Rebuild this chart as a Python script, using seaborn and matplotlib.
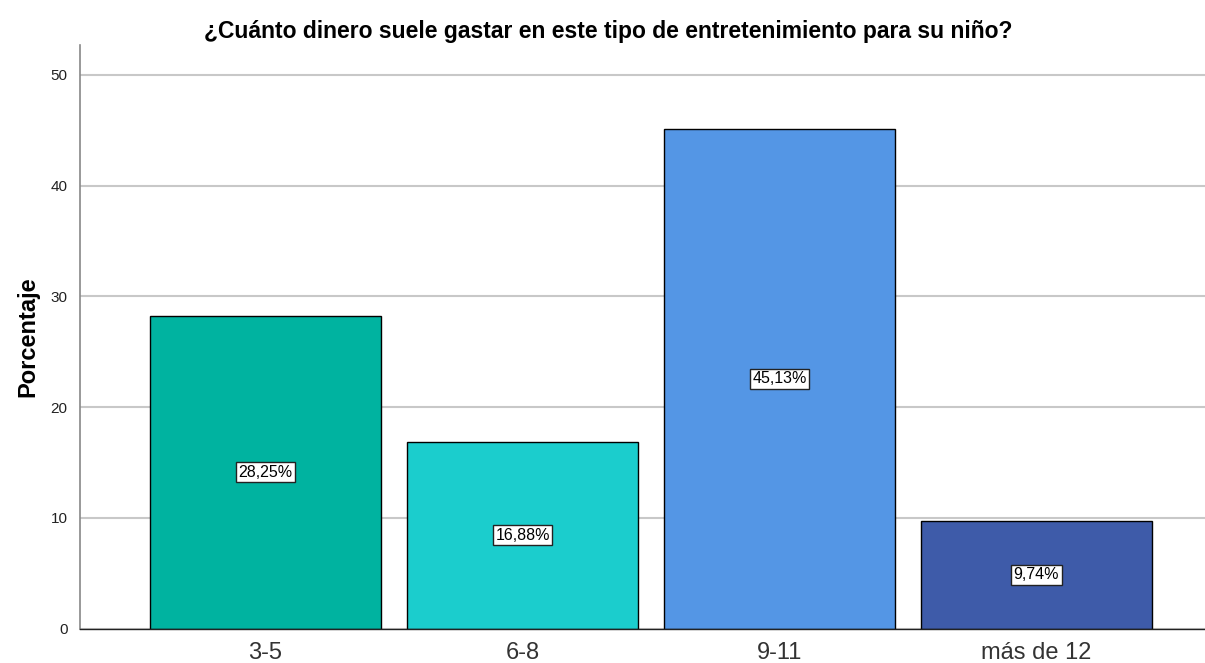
import matplotlib
matplotlib.use("Agg")
import matplotlib.pyplot as plt
import seaborn as sns
import pandas as pd

categories = ["3-5", "6-8", "9-11", "más de 12"]
percentages = [28.25, 16.88, 45.13, 9.74]
bar_colors = ["#00B3A0", "#1BCDCD", "#5496E5", "#3E5BA9"]
y_ticks = [0, 10, 20, 30, 40, 50]

sns.set_theme(style="white")
plt.rcParams["font.family"] = ["Liberation Sans", "DejaVu Sans"]

df = pd.DataFrame({"categoria": categories, "porcentaje": percentages})

fig = plt.figure(figsize=(12.05, 6.63), dpi=100)
ax = fig.add_axes([0.0664, 0.052, 0.9336, 0.880])

ax.yaxis.grid(True, color="#C8C8C8", linewidth=1.5, zorder=0)
ax.set_axisbelow(True)

sns.barplot(data=df, x="categoria", y="porcentaje", hue="categoria",
            palette=bar_colors, saturation=1, width=0.9, edgecolor="black",
            linewidth=1, legend=False, ax=ax, zorder=2)

for i, v in enumerate(percentages):
    ax.text(i, v / 2, f"{v:.2f}%".replace(".", ","), ha="center", va="center",
            fontsize=11.5, color="black", zorder=3,
            bbox=dict(boxstyle="square,pad=0.15", facecolor="white",
                      edgecolor="#222222", linewidth=1))

ax.set_xlim(-0.722, 3.656)
ax.set_ylim(0, 52.7)
ax.set_yticks(y_ticks)
ax.set_yticklabels([str(t) for t in y_ticks], fontsize=11, color="#222222")
ax.tick_params(axis="x", labelsize=17, colors="#333333", length=0, pad=10)
ax.tick_params(axis="y", length=0, pad=9)

ax.set_xlabel("")
ax.set_ylabel("Porcentaje", fontsize=17, fontweight="bold", labelpad=8,
              color="black")
fig.suptitle("¿Cuánto dinero suele gastar en este tipo de entretenimiento para su niño?",
             fontsize=16.5, fontweight="bold", x=0.505, y=0.953, va="center",
             color="black")

for side in ["top", "right"]:
    ax.spines[side].set_visible(False)
ax.spines["left"].set_color("#888888")
ax.spines["left"].set_linewidth(1.2)
ax.spines["bottom"].set_color("#222222")
ax.spines["bottom"].set_linewidth(1)

fig.savefig("out.png", dpi=100)
